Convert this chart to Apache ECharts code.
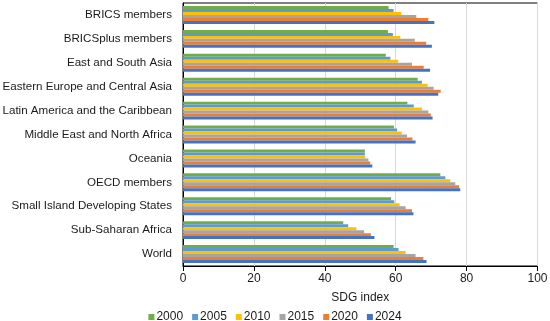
<!DOCTYPE html>
<html><head><meta charset="utf-8">
<script src="https://cdn.jsdelivr.net/npm/echarts@6/dist/echarts.min.js"></script>
<style>html,body{margin:0;padding:0;background:#fff}#c{width:550px;height:321px}</style>
</head><body><div id="c"></div>
<script>
const categories = ["BRICS members","BRICSplus members","East and South Asia","Eastern Europe and Central Asia","Latin America and the Caribbean","Middle East and North Africa","Oceania","OECD members","Small Island Developing States","Sub-Saharan Africa","World"];
const years = ["2000","2005","2010","2015","2020","2024"];
const v2000 = [58.0, 57.8, 57.2, 66.2, 63.3, 59.5, 51.3, 72.6, 58.7, 45.2, 59.4];
const v2005 = [59.4, 59.2, 58.5, 67.4, 65.1, 60.4, 51.3, 74.0, 59.6, 46.6, 60.8];
const v2010 = [61.6, 61.3, 60.7, 69.0, 67.4, 61.7, 51.4, 75.4, 61.1, 48.9, 62.8];
const v2015 = [65.8, 65.4, 64.6, 70.7, 69.2, 63.2, 52.3, 76.8, 62.8, 51.1, 65.6];
const v2020 = [69.2, 68.6, 67.9, 72.7, 69.9, 64.7, 52.8, 77.9, 64.6, 53.0, 67.8];
const v2024 = [70.9, 70.2, 69.7, 72.0, 70.4, 65.6, 53.4, 78.2, 65.0, 54.0, 68.7];
const xTicks = [0, 20, 40, 60, 80, 100];
const colors = ["#70AD47","#5B9BD5","#FFC000","#A5A5A5","#ED7D31","#4472C4"];
const values = [v2000, v2005, v2010, v2015, v2020, v2024];

const chart = echarts.init(document.getElementById('c'));
const font = "'Liberation Sans', Arial, sans-serif";
chart.setOption({
  animation: false,
  textStyle: {fontFamily: font},
  grid: {left: 183, right: 12.5, top: 3, bottom: 55, show: true, borderColor: '#000', borderWidth: 1, containLabel: false, outerBoundsMode: 'none'},
  legend: {
    data: years, top: 306, left: 'center', itemWidth: 6, itemHeight: 6, itemGap: 9,
    icon: 'rect', textStyle: {fontSize: 12, color: '#1a1a1a', fontFamily: font, padding: [0,0,0,-3]}
  },
  xAxis: {
    type: 'value', min: xTicks[0], max: xTicks[xTicks.length-1], interval: 20,
    name: 'SDG index', nameLocation: 'middle', nameGap: 26,
    nameTextStyle: {fontSize: 12, color: '#1a1a1a', fontFamily: font},
    axisLine: {show: true, lineStyle: {color: '#000'}},
    axisTick: {show: true, length: 5, lineStyle: {color: '#000'}},
    axisLabel: {fontSize: 12, color: '#1a1a1a', margin: 7, fontFamily: font},
    splitLine: {show: true, lineStyle: {color: '#d9d9d9', width: 1}}
  },
  yAxis: {
    type: 'category', data: categories, inverse: true,
    axisLine: {show: true, lineStyle: {color: '#000'}},
    axisTick: {show: false},
    axisLabel: {fontSize: 11.6, color: '#1a1a1a', margin: 11, fontFamily: font}
  },
  series: years.map((y, i) => ({
    name: y, type: 'bar', data: values[i],
    itemStyle: {color: colors[i]},
    barGap: '0%', barCategoryGap: '25%'
  }))
});
</script></body></html>
